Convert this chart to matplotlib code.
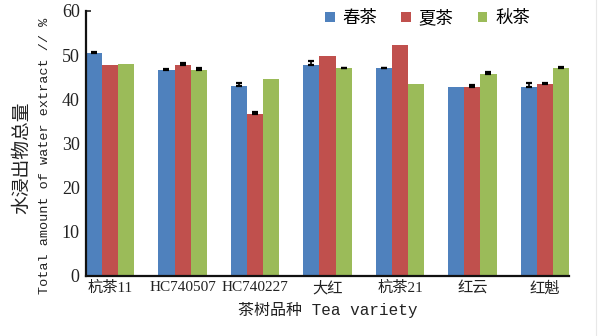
import numpy as np
import matplotlib.pyplot as plt
from matplotlib.patches import Patch
from matplotlib.lines import Line2D

varieties = ["杭茶11", "HC740507", "HC740227", "大红", "杭茶21", "红云", "红魁"]
seasons = ["春茶", "夏茶", "秋茶"]

spring = [50.5, 46.6, 43.0, 47.7, 47.0, 42.9, 42.7]
summer = [47.7, 47.7, 36.7, 49.8, 52.3, 42.9, 43.5]
autumn = [48.1, 46.6, 44.6, 47.0, 43.4, 45.7, 47.0]

spring_err = [0.2, 0.2, 0.6, 1.0, 0.2, 0.0, 1.0]
summer_err = [0.0, 0.6, 0.4, 0.0, 0.0, 0.3, 0.2]
autumn_err = [0.0, 0.6, 0.0, 0.2, 0.0, 0.4, 0.4]

colors = ["#4F81BD", "#C0504D", "#9BBB59"]

cjk = "Noto Sans CJK SC"
serif = ["Liberation Serif", cjk]
mono = ["Liberation Mono", cjk]

fig = plt.figure(figsize=(6.05, 3.36), dpi=100)
ax = fig.add_axes([0.1421, 0.1786, 0.7984, 0.7887])

x = np.arange(len(varieties))
w = 0.222
series = [spring, summer, autumn]
errs = [spring_err, summer_err, autumn_err]
for i, (vals, err, c) in enumerate(zip(series, errs, colors)):
    pos = x + (i - 1) * w
    vals = np.array(vals)
    err = np.array(err)
    ax.bar(pos, vals, width=w, color=c, linewidth=0, zorder=2)
    # only the upper half of the error bar, and none where the SD is zero
    has = err > 0
    ax.errorbar(pos[has], vals[has], yerr=[np.zeros(has.sum()), err[has]], fmt="none",
                ecolor="black", elinewidth=1.2, capsize=2.5, capthick=1.6, zorder=3)

ax.set_xlim(-1.5 * w, len(varieties) - 1 + 1.5 * w)
ax.set_ylim(0, 60)
ax.set_yticks(range(0, 61, 10))
ax.set_xticks(x)
ax.set_xticklabels(varieties, family=serif, fontsize=11)
for lab in ax.get_yticklabels():
    lab.set_family(serif)
    lab.set_fontsize(13)
ax.tick_params(axis="y", direction="in", length=3.6, width=1.2, pad=4.5, colors="#222222")
ax.tick_params(axis="x", length=0, pad=3.5, colors="#222222")

for s in ["top", "right"]:
    ax.spines[s].set_visible(False)
for s in ["left", "bottom"]:
    ax.spines[s].set_linewidth(1.6)
    ax.spines[s].set_color("#111111")

handles = [Patch(facecolor=c, edgecolor="none") for c in colors]
ax.legend(handles, seasons, loc="center", bbox_to_anchor=(0.707, 0.974), ncol=3,
          frameon=False, prop={"family": cjk, "size": 12.5},
          handlelength=0.55, handleheight=0.55, handletextpad=0.45,
          columnspacing=1.4, borderaxespad=0)

ax.set_xlabel("茶树品种 Tea variety", family=mono, fontsize=11.5, color="#222222", labelpad=5)
fig.text(22 / 605, 0.53, "水浸出物总量", rotation=90, ha="center", va="center",
         family=cjk, fontsize=13.5, color="#222222")
fig.text(45 / 605, 0.537, "Total amount of water extract // %", rotation=90,
         ha="center", va="center", family=mono, fontsize=9.7, color="#222222")

fig.add_artist(Line2D([596 / 605, 596 / 605], [0, 1], color="#e8e8e8", linewidth=0.8))

fig.savefig("out.png", dpi=100)
